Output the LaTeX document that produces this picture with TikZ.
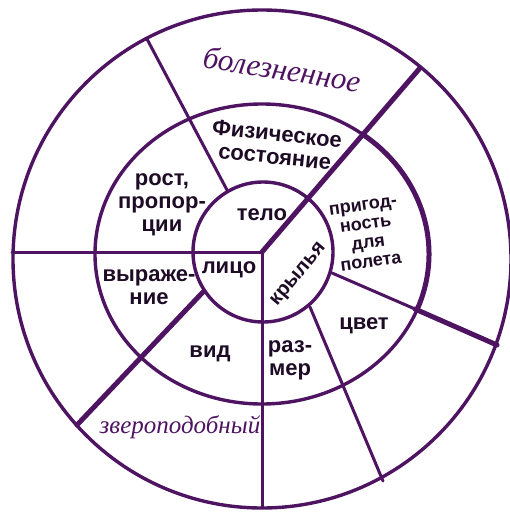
\documentclass[tikz,border=0pt]{standalone}
\usepackage{fontspec}
\setmainfont{Liberation Sans}
\newfontfamily\handfont{Liberation Serif}
\usepackage{xcolor}
\definecolor{wheel}{RGB}{78,20,98}
\definecolor{ink}{RGB}{30,12,38}

\begin{document}
\begin{tikzpicture}[
    x=1pt, y=-1pt,
    ring/.style={draw=wheel, line width=3.4pt},
    spoke/.style={draw=wheel, line width=3pt, line cap=round},
    heavy/.style={draw=wheel, line width=5pt, line cap=round},
    lbl/.style={inner sep=0pt, align=center, text=ink,
        font=\fontsize{22}{23}\selectfont\bfseries},
    small lbl/.style={lbl, font=\fontsize{18}{19}\selectfont\bfseries},
    hand/.style={inner sep=0pt, text=wheel,
        font=\handfont\itshape\fontsize{27}{28}\selectfont},
]

\useasboundingbox (0,0) rectangle (510,512);
\fill[white] (0,0) rectangle (510,512);

% rings
\draw[ring] (262,259) circle[radius=249];
\draw[ring] (262,254) ellipse[x radius=167, y radius=150];
\draw[heavy] ([shift={(-53:167 and 150)}]262,254) arc[start angle=-53, end angle=22, x radius=167, y radius=150];
\draw[ring] (263,252) circle[radius=70];

% spokes
\coordinate (hub) at (262,252);
\coordinate (west) at (12,252);
\coordinate (south) at (262,507);
\coordinate (northeast) at (420,68);
\coordinate (ul-in) at (227,190);
\coordinate (ul-out) at (147,39);
\coordinate (r-in) at (332,273);
\coordinate (r-mid) at (415,309);
\coordinate (r-out) at (497,345);
\coordinate (lr-in) at (310,307);
\coordinate (lr-out) at (383,481);
\coordinate (ll-in) at (203,292);
\coordinate (ll-out) at (77,425);

\draw[spoke] (hub) -- (west);
\draw[spoke] (hub) -- (south);
\draw[heavy] (hub) -- (northeast);
\draw[spoke] (ul-in) -- (ul-out);
\draw[spoke] (r-in) -- (r-mid);
\draw[heavy] (r-mid) -- (r-out);
\draw[spoke] (lr-in) -- (lr-out);
\draw[heavy] (ll-in) -- (ll-out);

% labels
\node[hand, rotate=-9, font=\handfont\itshape\fontsize{31}{32}\selectfont] (sick) at (282,69) {болезненное};
\node[hand, font=\handfont\itshape\fontsize{25}{26}\selectfont] (beast) at (180,427) {звероподобный};

\node[lbl, rotate=-6] (state) at (276,145) {Физическое\\состояние};
\node[lbl] (stature) at (162,205) {рост,\\пропор-\\ции};
\node[lbl] (body) at (262,215) {тело};
\node[lbl] (face) at (229,270) {лицо};
\node[lbl] (mien) at (149,287) {выраже-\\ние};
\node[lbl] (look) at (210,354) {вид};
\node[lbl] (size) at (290,360) {раз-\\мер};
\node[lbl] (colour) at (364,326) {цвет};
\node[lbl, rotate=50, font=\fontsize{20}{21}\selectfont\bfseries] (wings) at (299,275) {крылья};
\node[small lbl, rotate=8] (flight) at (367,234) {пригод-\\ность\\для\\полета};

\end{tikzpicture}
\end{document}
